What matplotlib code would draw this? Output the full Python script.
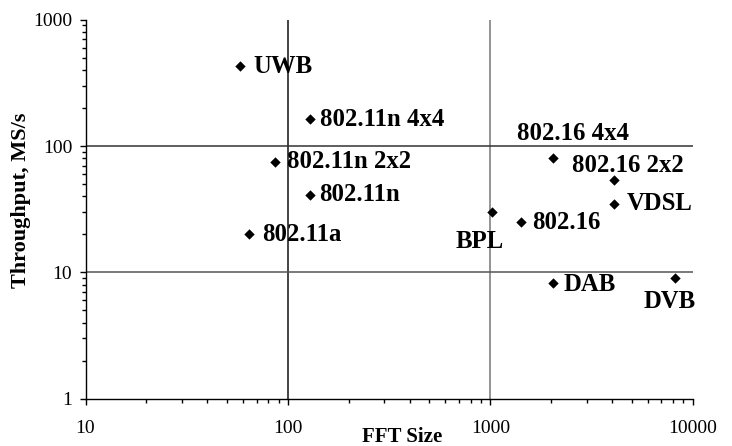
import matplotlib
matplotlib.use("Agg")
import matplotlib.pyplot as plt
from matplotlib.ticker import LogLocator, NullFormatter, FixedLocator, FixedFormatter

# Data
labels = ["UWB", "802.11n 4x4", "802.11n 2x2", "802.11n", "802.11a",
          "802.16 4x4", "802.16 2x2", "VDSL", "BPL", "802.16", "DAB", "DVB"]
fft_size = [58, 128, 86, 128, 64, 2048, 4096, 4096, 1024, 1420, 2048, 8192]
throughput = [430, 163, 75, 41, 20, 81, 54, 35, 30, 25, 8.2, 9]

x_ticks = [10, 100, 1000, 10000]
y_ticks = [1, 10, 100, 1000]
vgrid = [100, 1000]
hgrid = [10, 100]

# label offsets in pixels (dx, dy) and alignment
offsets = {
    "UWB": (13, 0, "left"),
    "802.11n 4x4": (10, 0, "left"),
    "802.11n 2x2": (12, 0, "left"),
    "802.11n": (10, 0, "left"),
    "802.11a": (13, 0, "left"),
    "802.16 4x4": (20, 24, "center"),
    "802.16 2x2": (14, 14, "center"),
    "VDSL": (13, 0, "left"),
    "BPL": (-13, -29, "center"),
    "802.16": (11, 0, "left"),
    "DAB": (10, -1, "left"),
    "DVB": (-5, -23, "center"),
}

serif = ["Liberation Serif", "DejaVu Serif"]

fig = plt.figure(figsize=(7.32, 4.46), dpi=100)
ax = fig.add_axes([85.5 / 732, 1 - 398.7 / 446, (692.7 - 85.5) / 732, (398.7 - 19.7) / 446])
ax.set_xscale("log")
ax.set_yscale("log")
ax.set_xlim(x_ticks[0], x_ticks[-1])
ax.set_ylim(y_ticks[0], y_ticks[-1])

for v, c in zip(vgrid, ["#111111", "#777777"]):
    ax.axvline(v, color=c, lw=1.1, zorder=1)
for h, c in zip(hgrid, ["#555555", "#333333"]):
    ax.axhline(h, color=c, lw=1.1, zorder=1)

ax.scatter(fft_size, throughput, marker="D", s=28, color="black", zorder=3, linewidths=0)

for lab, xv, yv in zip(labels, fft_size, throughput):
    dx, dy, ha = offsets[lab]
    ax.annotate(lab, (xv, yv), xytext=(dx, dy), textcoords="offset pixels",
                ha=ha, va="center", fontsize=17.8, fontweight="bold", family=serif, zorder=4)

for s in ["top", "right"]:
    ax.spines[s].set_visible(False)
for s in ["left", "bottom"]:
    ax.spines[s].set_linewidth(1.0)

ax.xaxis.set_major_locator(FixedLocator(x_ticks))
ax.xaxis.set_major_formatter(FixedFormatter([str(t) for t in x_ticks]))
ax.yaxis.set_major_locator(FixedLocator(y_ticks))
ax.yaxis.set_major_formatter(FixedFormatter([str(t) for t in y_ticks]))
ax.xaxis.set_minor_locator(LogLocator(base=10, subs=range(2, 10)))
ax.yaxis.set_minor_locator(LogLocator(base=10, subs=range(2, 10)))
ax.xaxis.set_minor_formatter(NullFormatter())
ax.yaxis.set_minor_formatter(NullFormatter())
ax.tick_params(axis="both", which="major", direction="out", length=4.5, width=1, labelsize=14)
ax.tick_params(axis="both", which="minor", direction="out", length=3, width=1)
ax.tick_params(axis="x", which="major", pad=11)
ax.tick_params(axis="y", which="major", pad=5)
for t in ax.get_xticklabels() + ax.get_yticklabels():
    t.set_family(serif)

fig.text(402 / 732, 1 - 437 / 446, "FFT Size", ha="center", va="center",
         fontsize=15, fontweight="bold", family=serif)
fig.text(21 / 732, 1 - 200 / 446, "Throughput, MS/s", ha="center", va="center",
         rotation=90, fontsize=16, fontweight="bold", family=serif)

fig.savefig("out.png", dpi=100)
